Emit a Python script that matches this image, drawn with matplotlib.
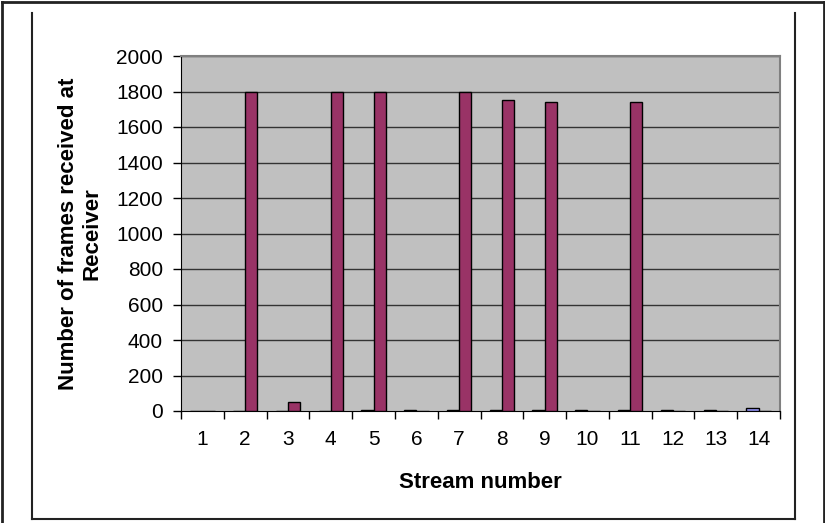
import numpy as np
import matplotlib
matplotlib.use('Agg')
import matplotlib.pyplot as plt
from matplotlib.lines import Line2D
from matplotlib.ticker import FixedLocator, NullFormatter

plt.rcParams['font.family'] = ['Liberation Sans', 'DejaVu Sans']

# data
streams = [str(i) for i in range(1, 15)]
series_a = [0, 0, 0, 0, 8, 8, 8, 8, 8, 8, 8, 8, 8, 18]          # blue, left bar
series_b = [0, 1800, 48, 1800, 1800, 0, 1800, 1750, 1740, 0, 1740, 0, 0, 0]  # purple, right bar
yticks = list(range(0, 2001, 200))

W, H = 825, 523
fig = plt.figure(figsize=(W / 100, H / 100), dpi=100, facecolor='white')

# plot area (pixel coords of the reference)
px_l, px_r, px_t, px_b = 181, 780, 56, 411
ax = fig.add_axes([px_l / W, 1 - px_b / H, (px_r - px_l) / W, (px_b - px_t) / H])
ax.set_facecolor('#C0C0C0')

pos = np.arange(1, len(streams) + 1)
bw = 0.285
ax.bar(pos - bw / 2, series_a, width=bw, color='#9999FF', edgecolor='black', linewidth=1.0, zorder=3)
ax.bar(pos + bw / 2, series_b, width=bw, color='#993366', edgecolor='black', linewidth=1.0, zorder=3)

ax.set_xlim(0.5, len(streams) + 0.5)
ax.set_ylim(0, 2000)

# y axis
ax.set_yticks(yticks)
ax.set_yticklabels([str(v) for v in yticks], fontsize=15)
for v in yticks[1:]:
    ax.axhline(v, color='#333333', linewidth=1.0, zorder=1)

# x axis: ticks on category boundaries, labels centred
ax.xaxis.set_major_locator(FixedLocator(np.arange(0.5, len(streams) + 1, 1)))
ax.xaxis.set_major_formatter(NullFormatter())
ax.xaxis.set_minor_locator(FixedLocator(pos))
ax.set_xticklabels(streams, minor=True, fontsize=15)
ax.tick_params(axis='x', which='minor', length=0, pad=14)
ax.tick_params(axis='x', which='major', length=6, width=1, color='black', direction='out')
ax.tick_params(axis='y', length=6, width=1, color='black', direction='out', pad=7)

for side in ['top', 'right']:
    ax.spines[side].set_color('#808080')
    ax.spines[side].set_linewidth(1.5)
ax.spines['left'].set_color('black')
ax.spines['bottom'].set_color('black')

fig.text((px_l + px_r) / 2 / W, 1 - 482 / H, 'Stream number', fontsize=16,
         fontweight='bold', ha='center', va='center')
fig.text(80 / W, 1 - 234 / H, 'Number of frames received at\nReceiver', fontsize=16,
         fontweight='bold', ha='center', va='center', rotation=90, linespacing=1.15)

# outer frame and inner chart frame
def fline(x0, y0, x1, y1, lw):
    fig.add_artist(Line2D([x0 / W, x1 / W], [1 - y0 / H, 1 - y1 / H], color='#222222', linewidth=lw))

fline(2, 1.5, 823, 1.5, 2)
fline(1.5, 1.5, 1.5, 523, 2)
fline(823.5, 1.5, 823.5, 523, 2)
fline(32, 13, 32, 519, 1.5)
fline(32, 519, 795, 519, 1.5)
fline(795, 13, 795, 519, 1.5)

fig.savefig('out.png', dpi=100, facecolor='white')
